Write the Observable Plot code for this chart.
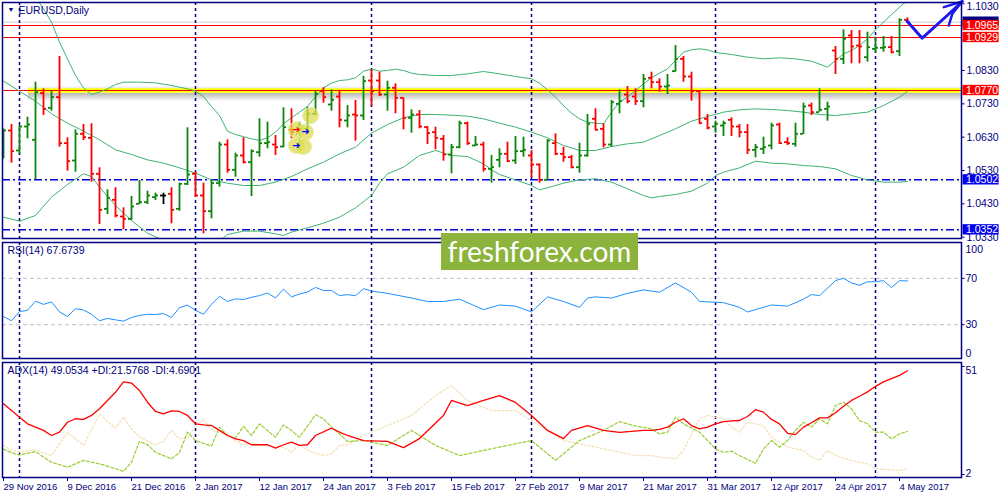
<!DOCTYPE html>
<html><head><meta charset="utf-8">
<script src="https://cdn.jsdelivr.net/npm/d3@7"></script>
<script src="https://cdn.jsdelivr.net/npm/@observablehq/plot@0.6"></script>
<style>
html,body{margin:0;padding:0;background:#fff;}
#root{position:relative;width:1000px;height:500px;overflow:hidden;background:#fff;}
#wm{position:absolute;left:441px;top:233px;width:197px;height:37px;background:#8cb33c;color:#fff;font-family:Lato,"Open Sans",sans-serif;font-size:28px;line-height:36px;text-align:center;}
</style></head><body><div id="root"></div>
<script>
// ---------------- DATA ----------------
const symbolTitle = "EURUSD,Daily";
const rsiTitle = "RSI(14) 67.6739";
const adxTitle = "ADX(14) 49.0534 +DI:21.5768 -DI:4.6901";
const watermark = "freshforex.com";

const dateTickIdx = [0,8,16,24,32,40,48,56,64,72,80,88,96,104,112];
const dateTickLabels = ["29 Nov 2016","9 Dec 2016","21 Dec 2016","2 Jan 2017","12 Jan 2017","24 Jan 2017","3 Feb 2017","15 Feb 2017","27 Feb 2017","9 Mar 2017","21 Mar 2017","31 Mar 2017","12 Apr 2017","24 Apr 2017","4 May 2017"];
const monthStarts = [2,24,46,66,89,109];

const priceTicks = [1.1030,1.0830,1.0730,1.0630,1.0530,1.0430,1.0330];
const redLevels = [1.0965,1.0929,1.0770];
const blueLevels = [1.0502,1.0352];
const keyLevel = 1.0770;
const lastClose = 1.0975;

const open = [1.0590,1.0650,1.0590,1.0662,1.0622,1.0762,1.0718,1.0750,1.0612,1.0560,
1.0640,1.0628,1.0520,1.0415,1.0442,1.0392,1.0385,1.0430,1.0435,1.0450,
1.0455,1.0460,1.0415,1.0490,1.0520,1.0455,1.0408,1.0492,1.0608,1.0532,
1.0575,1.0555,1.0585,1.0612,1.0608,1.0602,1.0652,1.0640,1.0655,1.0700,
1.0768,1.0728,1.0752,1.0680,1.0698,1.0695,1.0800,1.0800,1.0758,1.0778,
1.0748,1.0688,1.0698,1.0660,1.0645,1.0625,1.0578,1.0600,1.0672,1.0605,
1.0608,1.0535,1.0562,1.0580,1.0560,1.0588,1.0575,1.0548,1.0502,1.0612,
1.0580,1.0570,1.0540,1.0575,1.0685,1.0655,1.0608,1.0730,1.0758,1.0752,
1.0738,1.0808,1.0795,1.0782,1.0828,1.0865,1.0812,1.0768,1.0685,1.0662,
1.0665,1.0682,1.0662,1.0645,1.0592,1.0595,1.0605,1.0668,1.0615,1.0610,
1.0640,1.0725,1.0705,1.0715,1.0890,1.0865,1.0935,1.0905,1.0870,1.0895,
1.0898,1.0900,1.0888,1.0982];
const high = [1.0655,1.0668,1.0665,1.0690,1.0795,1.0775,1.0768,1.0872,1.0628,1.0652,
1.0668,1.0670,1.0538,1.0472,1.0478,1.0418,1.0452,1.0500,1.0468,1.0462,
1.0462,1.0478,1.0492,1.0658,1.0525,1.0492,1.0500,1.0615,1.0622,1.0582,
1.0628,1.0592,1.0685,1.0675,1.0635,1.0718,1.0715,1.0675,1.0720,1.0768,
1.0778,1.0772,1.0768,1.0725,1.0740,1.0812,1.0832,1.0825,1.0798,1.0790,
1.0748,1.0712,1.0710,1.0662,1.0660,1.0635,1.0608,1.0678,1.0675,1.0632,
1.0615,1.0575,1.0595,1.0615,1.0632,1.0630,1.0590,1.0550,1.0622,1.0640,
1.0600,1.0575,1.0612,1.0698,1.0715,1.0670,1.0740,1.0772,1.0782,1.0775,
1.0818,1.0825,1.0805,1.0818,1.0905,1.0872,1.0825,1.0770,1.0698,1.0678,
1.0678,1.0688,1.0668,1.0668,1.0608,1.0630,1.0672,1.0672,1.0628,1.0672,
1.0732,1.0732,1.0775,1.0735,1.0902,1.0952,1.0950,1.0950,1.0945,1.0930,
1.0932,1.0932,1.0985,1.0988];
const low = [1.0565,1.0552,1.0578,1.0625,1.0502,1.0695,1.0708,1.0600,1.0528,1.0525,
1.0620,1.0495,1.0368,1.0398,1.0388,1.0352,1.0380,1.0428,1.0428,1.0440,
1.0428,1.0370,1.0408,1.0485,1.0450,1.0340,1.0385,1.0480,1.0522,1.0510,
1.0550,1.0452,1.0570,1.0595,1.0575,1.0598,1.0625,1.0590,1.0640,1.0695,
1.0732,1.0708,1.0658,1.0658,1.0618,1.0680,1.0722,1.0752,1.0708,1.0700,
1.0652,1.0642,1.0655,1.0608,1.0592,1.0558,1.0520,1.0595,1.0605,1.0602,
1.0525,1.0492,1.0538,1.0555,1.0548,1.0570,1.0508,1.0492,1.0500,1.0575,
1.0555,1.0535,1.0522,1.0570,1.0650,1.0598,1.0600,1.0700,1.0730,1.0725,
1.0718,1.0775,1.0765,1.0758,1.0825,1.0795,1.0738,1.0670,1.0652,1.0642,
1.0632,1.0632,1.0628,1.0578,1.0568,1.0578,1.0592,1.0608,1.0605,1.0600,
1.0638,1.0695,1.0705,1.0678,1.0818,1.0848,1.0850,1.0850,1.0855,1.0882,
1.0885,1.0880,1.0872,1.0972];
const close = [1.0650,1.0588,1.0662,1.0668,1.0765,1.0715,1.0750,1.0612,1.0558,1.0640,
1.0630,1.0520,1.0412,1.0448,1.0395,1.0385,1.0422,1.0435,1.0455,1.0455,
1.0455,1.0412,1.0490,1.0518,1.0455,1.0408,1.0492,1.0608,1.0532,1.0575,
1.0555,1.0588,1.0612,1.0615,1.0600,1.0660,1.0645,1.0655,1.0700,1.0760,
1.0750,1.0742,1.0682,1.0695,1.0695,1.0798,1.0768,1.0758,1.0778,1.0748,
1.0688,1.0698,1.0662,1.0642,1.0628,1.0578,1.0600,1.0672,1.0612,1.0608,
1.0535,1.0540,1.0580,1.0558,1.0588,1.0592,1.0548,1.0502,1.0620,1.0580,
1.0570,1.0540,1.0575,1.0670,1.0652,1.0608,1.0735,1.0738,1.0738,1.0738,
1.0805,1.0795,1.0782,1.0785,1.0865,1.0812,1.0768,1.0672,1.0658,1.0670,
1.0672,1.0662,1.0645,1.0592,1.0600,1.0600,1.0665,1.0612,1.0612,1.0640,
1.0722,1.0705,1.0712,1.0722,1.0865,1.0925,1.0902,1.0902,1.0900,1.0898,
1.0900,1.0885,1.0982,1.0975];

// Bollinger bands: [bar, price]
const bbUpper = [[0,1.1160],[2,1.1100],[4,1.1050],[5,1.1015],[6,1.0975],[7,1.0915],[8,1.0865],[9,1.0815],[10,1.0778],[11,1.0758],[12,1.0765],[13,1.0775],[14,1.0788],[15,1.0795],[17,1.0795],[19,1.0793],[21,1.0785],[23,1.0775],[24,1.0768],[25,1.0752],[26,1.0722],[27,1.0695],[28,1.0648],[29,1.0638],[31,1.0625],[32,1.0620],[33,1.0628],[34,1.0645],[35,1.0670],[36,1.0688],[37,1.0705],[38,1.0722],[39,1.0752],[40,1.0778],[41,1.0792],[42,1.0800],[43,1.0802],[44,1.0808],[45,1.0828],[46,1.0834],[47,1.0828],[48,1.0830],[49,1.0834],[50,1.0830],[51,1.0822],[52,1.0818],[54,1.0815],[56,1.0815],[58,1.0820],[60,1.0827],[62,1.0820],[64,1.0812],[66,1.0805],[67,1.0792],[68,1.0772],[69,1.0750],[70,1.0725],[71,1.0702],[72,1.0685],[73,1.0675],[74,1.0672],[75,1.0670],[76,1.0705],[77,1.0735],[78,1.0750],[79,1.0770],[80,1.0790],[81,1.0808],[82,1.0822],[83,1.0835],[84,1.0860],[85,1.0885],[86,1.0892],[87,1.0895],[88,1.0892],[89,1.0884],[91,1.0878],[93,1.0870],[95,1.0865],[97,1.0868],[99,1.0865],[101,1.0858],[103,1.0840],[104,1.0860],[105,1.0880],[106,1.0890],[107,1.0905],[108,1.0925],[109,1.0952],[110,1.0975],[111,1.0998],[112,1.1020],[113,1.1040]];
const bbMid = [[0,1.0798],[2,1.0768],[4,1.0738],[6,1.0700],[8,1.0672],[10,1.0648],[12,1.0622],[14,1.0592],[16,1.0578],[18,1.0562],[20,1.0552],[22,1.0538],[24,1.0522],[26,1.0502],[28,1.0492],[30,1.0485],[32,1.0485],[34,1.0495],[36,1.0512],[38,1.0535],[40,1.0555],[42,1.0580],[44,1.0600],[46,1.0642],[48,1.0668],[50,1.0688],[52,1.0698],[54,1.0698],[56,1.0696],[58,1.0693],[60,1.0685],[62,1.0672],[64,1.0660],[66,1.0645],[68,1.0628],[70,1.0605],[72,1.0590],[74,1.0590],[76,1.0602],[78,1.0610],[80,1.0615],[82,1.0635],[84,1.0655],[86,1.0678],[88,1.0692],[90,1.0705],[92,1.0712],[94,1.0715],[96,1.0713],[98,1.0710],[100,1.0705],[102,1.0698],[104,1.0695],[106,1.0700],[108,1.0705],[110,1.0725],[112,1.0750],[113,1.0768]];
const bbLower = [[0,1.0390],[2,1.0378],[4,1.0395],[6,1.0450],[8,1.0488],[10,1.0520],[11,1.0512],[12,1.0480],[14,1.0425],[16,1.0380],[18,1.0342],[20,1.0320],[22,1.0300],[24,1.0285],[26,1.0295],[27,1.0318],[28,1.0338],[30,1.0348],[32,1.0348],[34,1.0340],[35,1.0335],[36,1.0345],[38,1.0358],[40,1.0372],[42,1.0390],[44,1.0418],[46,1.0455],[47,1.0492],[48,1.0520],[50,1.0540],[52,1.0575],[54,1.0590],[56,1.0575],[58,1.0572],[60,1.0550],[61,1.0532],[62,1.0518],[64,1.0502],[66,1.0485],[67,1.0472],[68,1.0478],[70,1.0492],[72,1.0502],[74,1.0505],[76,1.0495],[78,1.0475],[80,1.0455],[81,1.0448],[82,1.0452],[84,1.0458],[86,1.0468],[88,1.0492],[89,1.0515],[90,1.0525],[92,1.0538],[94,1.0558],[96,1.0552],[98,1.0550],[100,1.0545],[102,1.0542],[104,1.0535],[106,1.0515],[108,1.0502],[110,1.0495],[112,1.0495],[113,1.0497]];

// trade markers and hand-drawn arrow: [bar, price]
const tradeCircles = [[38.4,1.0695],[36.6,1.0652],[37.75,1.0645],[36.6,1.0605],[37.5,1.0602]];
const tradeArrows = [[36.6,1.0652,"#ff0000"],[37.75,1.0645,"#0000ff"],[36.6,1.0605,"#0000ff"]];
const sketchArrow = [[112.96,1.0978],[114.84,1.0927],[117.96,1.0995],[119.84,1.1037]];
const sketchBarb1 = [[117.54,1.1020],[119.84,1.1037]];
const sketchBarb2 = [[118.16,1.0965],[118.6,1.1000],[119.84,1.1037]];

const rsiTicks = [100,70,30,0];
const rsiLevels = [70,30];
const rsi = [[0,37.1],[1,33.4],[2,41.3],[3,42.4],[4,50.3],[5,47.5],[6,49.7],[7,41.0],[8,37.1],[9,43.8],[10,42.7],[11,39.0],[12,33.4],[13,35.4],[14,34.2],[15,33.1],[16,36.2],[17,38.0],[18,39.0],[19,38.8],[20,39.6],[21,36.2],[22,44.7],[23,46.9],[24,42.4],[25,39.0],[26,47.5],[27,54.5],[28,50.0],[29,52.3],[30,51.7],[31,53.6],[32,55.1],[33,57.3],[34,53.1],[35,60.7],[36,54.0],[37,56.5],[38,58.2],[39,62.1],[40,59.5],[41,59.5],[42,55.1],[43,55.9],[44,55],[45,61],[46,59],[48,57],[51,53],[53,50],[55,50],[57,52],[60,43],[62,47],[64,46],[66,41],[68,54],[70,50],[72,45],[73,53],[74,54],[76,53],[78,57],[80,60],[82,58],[84,66],[86,58],[87,50],[90,49],[92,45],[93,41],[96,47],[98,46],[100,52],[101,56],[102,55],[104,68],[105,70],[106,66],[107,64],[108,67],[109,67],[110,68],[111,62],[112,68],[113,67.7]];

const adxTicks = [51,2];
const adx = [[0,34.1],[2,28.0],[3,25.0],[5,22.0],[6,19.7],[7,21.2],[8,25.7],[9,27.3],[10,27.0],[11,28.8],[12,31.8],[13,35.6],[14,39.3],[15,44.0],[16,43.5],[17,40.1],[18,34.8],[19,30.6],[20,29.5],[21,30.9],[22,30.6],[23,28.8],[24,25.0],[25,24.5],[26,24.2],[27,22.0],[28,19.7],[29,18.2],[30,17.4],[31,15.5],[33,15.5],[34,14.0],[35,15.5],[36,16.7],[37,15.2],[38,15.5],[39,19.7],[41,23.0],[42,21.2],[43,19.7],[45,17.4],[48,17.0],[50,14.2],[52,18.3],[55,28.8],[56,35.6],[58,33.3],[60,35.6],[62,37.8],[64,34.7],[66,28.8],[68,22.0],[70,18.3],[71,22.0],[73,24.2],[75,22.0],[77,21.1],[80,22.0],[81,22.0],[82,22.5],[83,23.5],[84,25.7],[85,27.3],[86,24.2],[87,22.7],[88,23.5],[89,25.0],[90,26.0],[91,26.3],[92,26.5],[93,28.3],[94,31.4],[95,30.3],[96,27.0],[97,25.0],[98,20.7],[99,20.1],[100,23.5],[101,25.5],[102,27.7],[103,27.7],[104,30.0],[105,33.0],[106,35.6],[107,37.5],[108,39.5],[109,42.0],[110,44.0],[111,45.5],[112,47.0],[113,49.05]];
const plusDI = [[0,13.6],[1,11.8],[2,10.9],[4,12.4],[5,9.9],[6,7.6],[8,5.3],[10,8.4],[12,6.8],[13,5.8],[15,3.4],[16,7.6],[17,17.0],[18,15.5],[19,12.1],[21,9.1],[22,12.0],[23,21.2],[24,17.4],[26,14.9],[27,23.5],[28,19.7],[29,18.5],[30,23.9],[31,19.7],[32,25.0],[33,22.0],[34,18.9],[35,24.5],[36,22.0],[37,18.9],[39,29.1],[40,27.3],[41,23.5],[42,20.4],[43,17.0],[45,17.4],[48,15.2],[51,22.0],[54,15.2],[57,10.6],[60,12.9],[63,15.2],[66,17.4],[69,8.4],[72,17.4],[75,22.0],[77,26.0],[79,24.0],[81,22.7],[82,20.4],[83,21.2],[84,28.0],[85,25.0],[87,21.2],[88,17.4],[89,13.6],[90,12.1],[91,12.6],[92,10.6],[94,7.1],[95,13.6],[96,17.4],[97,14.4],[98,17.4],[99,22.0],[100,25.7],[101,23.5],[102,27.3],[103,25.0],[104,33.3],[105,34.8],[106,31.8],[107,26.5],[108,25.0],[109,21.2],[110,21.2],[111,18.2],[112,20.4],[113,21.58]];
const minusDI = [[0,15.2],[1,12.9],[2,12.1],[4,13.3],[5,11.8],[6,10.6],[8,21.2],[10,15.2],[12,29.5],[14,23.0],[15,28.0],[16,22.7],[17,18.9],[19,15.5],[20,17.0],[21,22.0],[22,18.2],[23,18.5],[24,24.2],[25,27.0],[26,22.0],[28,20.4],[29,17.4],[30,15.5],[31,15.9],[33,15.2],[35,14.4],[36,12.1],[37,15.5],[38,12.9],[40,10.6],[41,11.4],[42,15.2],[43,15.5],[45,19.7],[48,24.2],[51,28.8],[54,37.8],[56,42.4],[58,35.6],[61,31.0],[64,31.0],[67,24.2],[70,17.4],[73,15.2],[76,12.9],[79,10.6],[81,10.6],[82,9.9],[84,9.1],[85,12.9],[86,20.4],[87,27.3],[88,28.8],[90,27.3],[91,23.5],[92,21.2],[93,25.7],[95,24.2],[96,18.9],[98,14.4],[100,12.9],[101,9.9],[102,8.4],[103,12.9],[104,10.6],[106,8.4],[108,6.8],[109,4.6],[111,4.1],[112,3.8],[113,4.69]];

// ---------------- DRAWING ----------------
const NAVY = "#000080", UP = "#0b850b", DOWN = "#ff0000", BB = "#3cb371";
const FONT = "'Liberation Sans', Arial, sans-serif";
const X_DOMAIN = [-0.125, 119.75];
const LBL_X1 = X_DOMAIN[1] + 0.19, LBL_X2 = X_DOMAIN[1] + 4.7;
const bandStart = 3.1;
const root = document.getElementById("root");
const style = {fontFamily: FONT, fontSize: "10px", background: "transparent", overflow: "visible", color: NAVY};
const P = d => d[0], V = d => d[1];

function place(svg, top) {
  svg.style.position = "absolute"; svg.style.left = "0px"; svg.style.top = top + "px";
  root.appendChild(svg);
}

const bars = open.map((o, i) => ({i, o, h: high[i], l: low[i], c: close[i],
  col: close[i] > o ? UP : close[i] < o ? DOWN : "#000000"}));
const levelBoxes = redLevels.map(p => ({p, bg: "#ff0000"}))
  .concat(blueLevels.map(p => ({p, bg: "#0000ee"})));
const shadow = [1,2,3,4,5,6,7,8].map(k => Plot.ruleY([keyLevel], {x1: bandStart, x2: X_DOMAIN[1], stroke: "#6a6a6a", strokeOpacity: 0.5 * (1 - k / 9), dy: 2 + k}))
  .concat([1,2].map(k => Plot.ruleY([keyLevel], {x1: bandStart, x2: X_DOMAIN[1], stroke: "#888", strokeOpacity: 0.15 / k, dy: -2 - k})));

const price = Plot.plot({
  width: 1000, height: 240, marginLeft: 2, marginRight: 39, marginTop: 2, marginBottom: 2,
  style, color: {type: "identity"},
  x: {domain: X_DOMAIN, axis: null},
  y: {domain: [1.0326, 1.1034], axis: null},
  marks: [
    ...shadow,
    Plot.ruleY([keyLevel], {x1: bandStart, x2: X_DOMAIN[1], stroke: "#ffff00", strokeWidth: 4.5}),
    Plot.ruleY([lastClose], {stroke: "#cfcfcf"}),
    Plot.ruleY(redLevels, {stroke: "#ff0000"}),
    Plot.ruleY(blueLevels, {stroke: "#0000dd", strokeWidth: 1.5, strokeDasharray: "8,3,2,3"}),
    Plot.ruleX(monthStarts, {stroke: NAVY, strokeWidth: 1.5, strokeDasharray: "3,3"}),
    Plot.line(bbUpper, {x: P, y: V, stroke: BB, strokeWidth: 1, clip: true}),
    Plot.line(bbMid, {x: P, y: V, stroke: BB, strokeWidth: 1, clip: true}),
    Plot.line(bbLower, {x: P, y: V, stroke: BB, strokeWidth: 1, clip: true}),
    Plot.ruleX(bars, {x: "i", y1: "l", y2: "h", stroke: "col", strokeWidth: 1.8, clip: true}),
    Plot.ruleY(bars, {y: "o", x1: d => d.i - 0.375, x2: "i", stroke: "col", strokeWidth: 1.8, clip: true}),
    Plot.ruleY(bars, {y: "c", x1: "i", x2: d => d.i + 0.375, stroke: "col", strokeWidth: 1.8, clip: true}),
    Plot.dot(tradeCircles, {x: P, y: V, r: 8, fill: "#dcdc50", fillOpacity: 0.75, stroke: "#ecec9a", strokeWidth: 1}),
    Plot.text(tradeArrows, {x: P, y: V, text: () => "➜", fill: d => d[2], fontSize: 10, fontFamily: "DejaVu Sans"}),
    Plot.line(sketchArrow, {x: P, y: V, stroke: "#1a1af0", strokeWidth: 3, strokeLinejoin: "round", strokeLinecap: "round"}),
    Plot.line(sketchBarb1, {x: P, y: V, stroke: "#1a1af0", strokeWidth: 2.5, strokeLinecap: "round"}),
    Plot.line(sketchBarb2, {x: P, y: V, stroke: "#1a1af0", strokeWidth: 2.5, strokeLinecap: "round"}),
    // right price axis
    Plot.ruleY(priceTicks, {x1: X_DOMAIN[1], x2: X_DOMAIN[1] + 0.45, stroke: NAVY}),
    Plot.text(priceTicks.slice(1), {x: X_DOMAIN[1], y: d => d, text: d => d.toFixed(4), textAnchor: "start", dx: 5, fill: NAVY, fontSize: 10.5}),
    Plot.text(priceTicks.slice(0, 1), {x: X_DOMAIN[1], y: d => d, text: d => d.toFixed(4), textAnchor: "start", dx: 5, dy: 2.5, fill: NAVY, fontSize: 10.5}),
    // current-price tag (hidden behind the level tags, as in the terminal)
    Plot.rect([lastClose], {x1: LBL_X1, x2: LBL_X2, y1: d => d - 0.00155, y2: d => d + 0.00155, fill: NAVY}),
    Plot.rect(levelBoxes, {x1: LBL_X1, x2: LBL_X2, y1: d => d.p - 0.00155, y2: d => d.p + 0.00155, fill: "bg"}),
    Plot.text(levelBoxes, {x: LBL_X1, y: "p", text: d => d.p.toFixed(4), fill: "#ffffff", textAnchor: "start", dx: 3, fontSize: 10.5}),
    Plot.frame({stroke: NAVY, strokeWidth: 1.5}),
    Plot.text(["▼"], {frameAnchor: "top-left", dx: 5, dy: 5, lineAnchor: "top", textAnchor: "start", fontSize: 7, fill: NAVY}),
    Plot.text([symbolTitle], {frameAnchor: "top-left", dx: 16, dy: 4, lineAnchor: "top", textAnchor: "start", fontSize: 10.5, fill: NAVY})
  ]
});
place(price, 0);

const rsiChart = Plot.plot({
  width: 1000, height: 120, marginLeft: 2, marginRight: 39, marginTop: 2, marginBottom: 2,
  style,
  x: {domain: X_DOMAIN, axis: null},
  y: {domain: [0, 100], range: [119, 3], axis: null},
  marks: [
    Plot.ruleY(rsiLevels, {stroke: "#c0c0c0", strokeDasharray: "4,3"}),
    Plot.ruleX(monthStarts, {stroke: NAVY, strokeWidth: 1.5, strokeDasharray: "3,3"}),
    Plot.line(rsi, {x: P, y: V, stroke: "#1e90ff", strokeWidth: 1}),
    Plot.ruleY(rsiTicks.slice(1, 3), {x1: X_DOMAIN[1], x2: X_DOMAIN[1] + 0.45, stroke: NAVY}),
    Plot.text(rsiTicks.slice(1, 3), {x: X_DOMAIN[1], y: d => d, text: d => String(d), textAnchor: "start", dx: 4, fill: NAVY, fontSize: 10.5}),
    Plot.text([rsiTicks[0]], {x: X_DOMAIN[1], y: d => d, text: d => String(d), textAnchor: "start", dx: 4, dy: 6, fill: NAVY, fontSize: 10.5}),
    Plot.text([rsiTicks[3]], {x: X_DOMAIN[1], y: d => d, text: d => String(d), textAnchor: "start", dx: 4, dy: -6, fill: NAVY, fontSize: 10.5}),
    Plot.frame({stroke: NAVY, strokeWidth: 1.5}),
    Plot.text([rsiTitle], {frameAnchor: "top-left", dx: 5, dy: 4, lineAnchor: "top", textAnchor: "start", fontSize: 10.5, fill: NAVY})
  ]
});
place(rsiChart, 240);

const labelOf = new Map(dateTickIdx.map((d, k) => [d, dateTickLabels[k]]));
const adxChart = Plot.plot({
  width: 1000, height: 140, marginLeft: 2, marginRight: 39, marginTop: 2, marginBottom: 23,
  style,
  x: {domain: X_DOMAIN, axis: null},
  y: {domain: [2, 51], range: [114, 6], axis: null},
  marks: [
    Plot.ruleX(monthStarts, {stroke: NAVY, strokeWidth: 1.5, strokeDasharray: "3,3"}),
    Plot.line(minusDI, {x: P, y: V, stroke: "#f5deb3", strokeWidth: 1.2, strokeDasharray: "2,2"}),
    Plot.line(plusDI, {x: P, y: V, stroke: "#9acd32", strokeWidth: 1.2, strokeDasharray: "3,2"}),
    Plot.line(adx, {x: P, y: V, stroke: "#ff0000", strokeWidth: 1.3}),
    Plot.ruleY(adxTicks, {x1: X_DOMAIN[1], x2: X_DOMAIN[1] + 0.45, stroke: NAVY}),
    Plot.text([adxTicks[0]], {x: X_DOMAIN[1], y: d => d, text: d => String(d), textAnchor: "start", dx: 4, dy: 4, fill: NAVY, fontSize: 10.5}),
    Plot.text([adxTicks[1]], {x: X_DOMAIN[1], y: d => d, text: d => String(d), textAnchor: "start", dx: 4, dy: -1, fill: NAVY, fontSize: 10.5}),
    Plot.frame({stroke: NAVY, strokeWidth: 1.5}),
    Plot.axisX(dateTickIdx, {anchor: "bottom", label: null, tickFormat: d => labelOf.get(d), tickSize: 4, tickPadding: 2, textAnchor: "start", color: NAVY, fontSize: 9.5}),
    Plot.text([adxTitle], {frameAnchor: "top-left", dx: 5, dy: 4, lineAnchor: "top", textAnchor: "start", fontSize: 10.5, fill: NAVY})
  ]
});
place(adxChart, 360);

const wm = document.createElement("div");
wm.id = "wm"; wm.textContent = watermark;
root.appendChild(wm);
</script></body></html>
